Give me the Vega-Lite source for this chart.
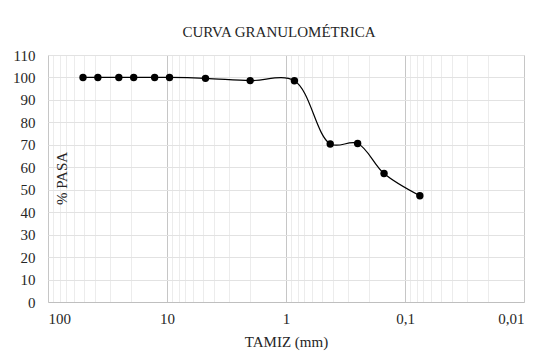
{
  "$schema": "https://vega.github.io/schema/vega-lite/v6.json",
  "width": 476,
  "height": 247,
  "autosize": {"type": "none"},
  "padding": {"left": 48, "top": 55, "right": 15, "bottom": 52},
  "background": "white",
  "title": {
    "text": "CURVA  GRANULOMÉTRICA",
    "font": "Liberation Serif",
    "fontSize": 15,
    "fontWeight": "normal",
    "color": "#262626",
    "anchor": "middle",
    "frame": "group",
    "dx": -7,
    "offset": 8,
    "limit": 0
  },
  "config": {
    "view": {"stroke": "#d9d9d9", "strokeWidth": 1},
    "axis": {
      "labelFont": "Liberation Serif",
      "labelFontSize": 15,
      "labelColor": "#262626",
      "titleFont": "Liberation Serif",
      "titleFontSize": 15,
      "titleFontWeight": "normal",
      "titleColor": "#262626",
      "ticks": false
    }
  },
  "data": {
    "values": [
      {"d": 50.8, "p": 100},
      {"d": 38.1, "p": 100},
      {"d": 25.4, "p": 100},
      {"d": 19.05, "p": 100},
      {"d": 12.7, "p": 100},
      {"d": 9.525, "p": 100},
      {"d": 4.75, "p": 99.6},
      {"d": 2.0, "p": 98.6},
      {"d": 0.85, "p": 98.5},
      {"d": 0.425, "p": 70.4},
      {"d": 0.25, "p": 70.6},
      {"d": 0.15, "p": 57.2},
      {"d": 0.075, "p": 47.3}
    ]
  },
  "encoding": {
    "x": {
      "field": "d",
      "type": "quantitative",
      "scale": {"type": "log", "domain": [0.01, 100], "reverse": true},
      "axis": {
        "title": "TAMIZ (mm)",
        "values": [0.01, 0.02, 0.03, 0.04, 0.05, 0.06, 0.07, 0.08, 0.09, 0.1, 0.2, 0.3, 0.4, 0.5, 0.6, 0.7, 0.8, 0.9, 1, 2, 3, 4, 5, 6, 7, 8, 9, 10, 20, 30, 40, 50, 60, 70, 80, 90, 100],
        "labelExpr": "indexof([0.01, 0.1, 1, 10, 100], datum.value) >= 0 ? replace(format(datum.value, '~g'), '.', ',') : ''",
        "labelOverlap": false,
        "labelBaseline": "alphabetic",
        "labelPadding": 21,
        "grid": true,
        "gridColor": {
          "condition": {"test": "indexof([0.01, 0.1, 1, 10, 100], datum.value) >= 0", "value": "#c6c6c6"},
          "value": "#ececec"
        },
        "domainColor": "#bfbfbf",
        "titleY": 44,
        "titleBaseline": "alphabetic"
      }
    },
    "y": {
      "field": "p",
      "type": "quantitative",
      "scale": {"domain": [0, 110], "nice": false},
      "axis": {
        "title": "% PASA",
        "values": [0, 10, 20, 30, 40, 50, 60, 70, 80, 90, 100, 110],
        "grid": true,
        "gridColor": "#e2e2e2",
        "domain": false,
        "labelPadding": 13,
        "titleX": 13,
        "titleY": 123,
        "titleAngle": -90,
        "titleBaseline": "middle",
        "titleAlign": "center"
      }
    }
  },
  "layer": [
    {"mark": {"type": "line", "interpolate": "catmull-rom", "color": "black", "strokeWidth": 1.2}},
    {"mark": {"type": "point", "filled": true, "color": "black", "size": 55, "opacity": 1}}
  ]
}
